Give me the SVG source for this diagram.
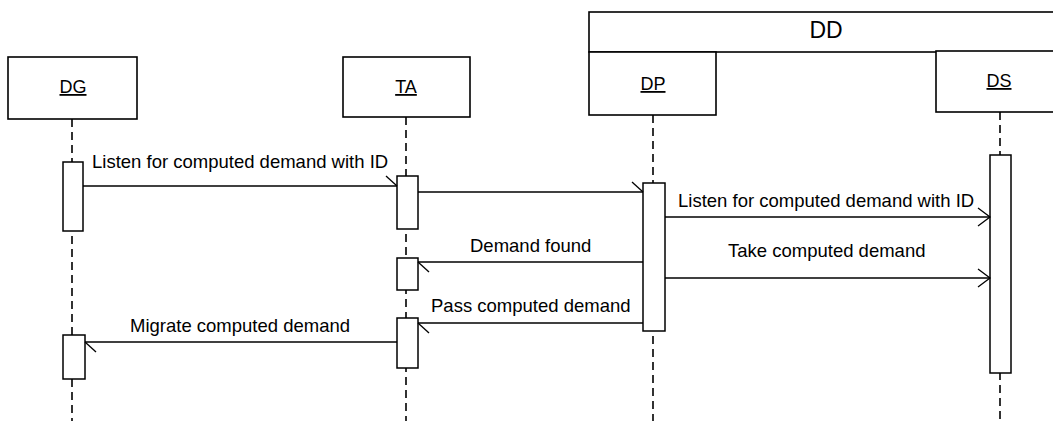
<svg xmlns="http://www.w3.org/2000/svg" width="1053" height="421" viewBox="0 0 1053 421">
  <style>
    .box { fill: #fff; stroke: #000; stroke-width: 1.6; }
    .act { fill: #fff; stroke: #000; stroke-width: 1.5; }
    .life { stroke: #000; stroke-width: 1.6; stroke-dasharray: 8 5; fill: none; }
    .msg { stroke: #000; stroke-width: 1.3; fill: none; }
    .async { marker-end: url(#half); }
    .sync { marker-end: url(#open); }
    .hdr { font-family: "Liberation Sans", Arial, sans-serif; font-size: 18px; text-anchor: middle; text-decoration: underline; fill: #000; }
    .lbl { font-family: "Liberation Sans", Arial, sans-serif; font-size: 18.5px; fill: #000; }
  </style>
  <defs>
    <marker id="half" markerUnits="userSpaceOnUse" refX="0" refY="0" markerWidth="30" markerHeight="30" orient="auto" overflow="visible">
      <path d="M-11,-10 L0,0" stroke="#000" stroke-width="1.3" fill="none"/>
    </marker>
    <marker id="open" markerUnits="userSpaceOnUse" refX="0" refY="0" markerWidth="30" markerHeight="30" orient="auto" overflow="visible">
      <path d="M-12,-9 L0,0 L-12,9" stroke="#000" stroke-width="1.3" fill="none"/>
    </marker>
  </defs>
  <rect width="1053" height="421" fill="#fff"/>

  <g id="DD">
    <rect class="box" x="589" y="12" width="470" height="40"/>
    <text x="826" y="38" font-family="Liberation Sans, Arial, sans-serif" font-size="23" text-anchor="middle">DD</text>
  </g>

  <g id="lifelines">
    <line class="life" x1="72" y1="119" x2="72" y2="421"/>
    <line class="life" x1="406" y1="117" x2="406" y2="421"/>
    <line class="life" x1="653" y1="115" x2="653" y2="421"/>
    <line class="life" x1="1000" y1="112" x2="1000" y2="421"/>
  </g>

  <g id="DG">
    <rect class="box" x="8" y="57" width="129" height="62"/>
    <text class="hdr" x="73" y="93">DG</text>
    <rect class="act" x="63" y="162" width="20" height="69"/>
    <rect class="act" x="63" y="335" width="22" height="44"/>
  </g>

  <g id="TA">
    <rect class="box" x="343" y="57" width="127" height="60"/>
    <text class="hdr" x="406" y="93">TA</text>
    <rect class="act" x="397" y="176" width="21" height="53"/>
    <rect class="act" x="397" y="258" width="21" height="32"/>
    <rect class="act" x="397" y="318" width="21" height="50"/>
  </g>

  <g id="DP">
    <rect class="box" x="589" y="52" width="127" height="63"/>
    <text class="hdr" x="653" y="90">DP</text>
    <rect class="act" x="643" y="183" width="22" height="148"/>
  </g>

  <g id="DS">
    <rect class="box" x="936" y="51" width="130" height="61"/>
    <text class="hdr" x="999" y="87">DS</text>
    <rect class="act" x="990" y="155" width="21" height="218"/>
  </g>

  <g id="connectors">
    <line class="msg async" x1="83" y1="186" x2="397" y2="186"/>
    <text class="lbl" x="92" y="168">Listen for computed demand with ID</text>

    <line class="msg async" x1="418" y1="192" x2="643" y2="192"/>

    <line class="msg sync" x1="665" y1="217" x2="990" y2="217"/>
    <text class="lbl" x="678" y="207">Listen for computed demand with ID</text>

    <line class="msg async" x1="643" y1="262" x2="418" y2="262"/>
    <text class="lbl" x="470" y="252">Demand found</text>

    <line class="msg sync" x1="665" y1="278" x2="990" y2="278"/>
    <text class="lbl" x="728" y="257">Take computed demand</text>

    <line class="msg async" x1="643" y1="323" x2="418" y2="323"/>
    <text class="lbl" x="431" y="312">Pass computed demand</text>

    <line class="msg async" x1="397" y1="342" x2="85" y2="342"/>
    <text class="lbl" x="130" y="332">Migrate computed demand</text>
  </g>
</svg>
